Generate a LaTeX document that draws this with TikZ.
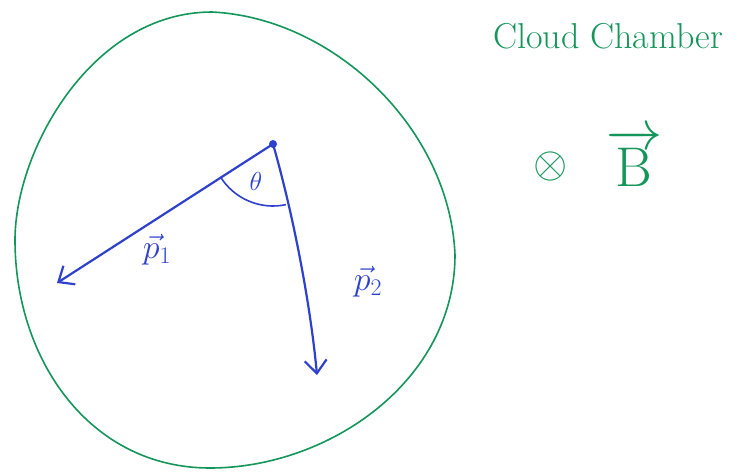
\RequirePackage{fix-cm}
\documentclass[tikz,border=0pt]{standalone}
\usepackage{fontspec}
\usetikzlibrary{arrows.meta}
\definecolor{chgreen}{RGB}{20,150,90}
\definecolor{chblue}{RGB}{45,65,205}
\begin{document}
\begin{tikzpicture}[x=1pt,y=-1pt,
  chamber/.style={draw=chgreen,line width=1.6pt},
  track/.style={draw=chblue,line width=2.2pt,-{Straight Barb[length=13pt,width=22pt,line width=2.2pt]}},
  gtext/.style={text=chgreen,inner sep=0pt},
  btext/.style={text=chblue,inner sep=0pt}]
\useasboundingbox (0,0) rectangle (739,474);
% chamber outline
\coordinate (cT) at (212,12);
\coordinate (cR) at (455,255);
\coordinate (cB) at (210,468);
\coordinate (cL) at (15,240);
\draw[chamber] (cT) .. controls (335,18) and (450,130) .. (cR)
  .. controls (455,380) and (330,468) .. (cB)
  .. controls (90,468) and (15,360) .. (cL)
  .. controls (15,150) and (92,12) .. (cT) -- cycle;
% vertex
\coordinate (v) at (273,144);
\coordinate (t1) at (57,283);
\coordinate (t2) at (317,375);
\fill[chblue] (v) circle (4pt);
\draw[track] (v) -- (t1);
\draw[track] (v) .. controls (292,210) and (310,300) .. (t2);
% angle arc
\draw[chblue,line width=1.6pt] (v) ++(148:62) arc[start angle=148,end angle=78,radius=62];
\node[btext,font=\fontsize{26}{30}\selectfont] (theta) at (256,181) {$\theta$};
\node[btext,font=\fontsize{34}{38}\selectfont] (p1) at (157,250) {$\vec{p}_1$};
\node[btext,font=\fontsize{34}{38}\selectfont] (p2) at (368,282) {$\vec{p}_2$};
% labels
\node[gtext,font=\fontsize{36}{40}\selectfont] (title) at (608,36) {Cloud Chamber};
\node[gtext,font=\fontsize{44}{48}\selectfont] (otimes) at (551,166) {$\otimes$};
\node[gtext,font=\fontsize{56}{60}\selectfont] (B) at (634,158) {$\overrightarrow{\mathrm{B}}$};
\end{tikzpicture}
\end{document}
